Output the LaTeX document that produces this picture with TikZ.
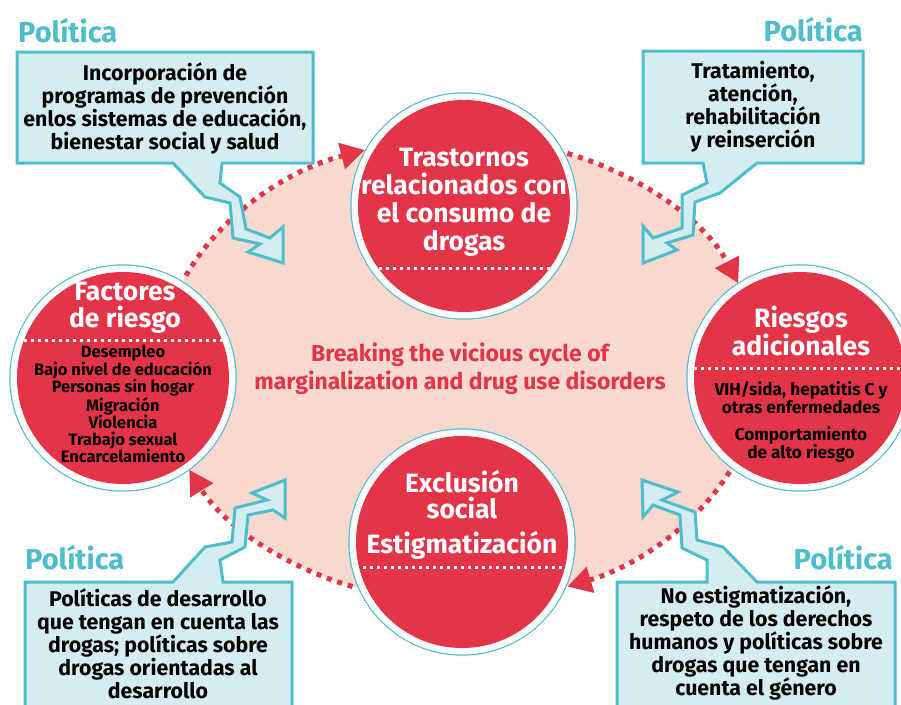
\documentclass[tikz,border=0pt]{standalone}
\usepackage{fontspec}
\setmainfont{Fira Sans}
\usetikzlibrary{arrows.meta,calc}
\definecolor{rojo}{HTML}{E43448}
\definecolor{rosa}{HTML}{F9D9D0}
\definecolor{turquesa}{HTML}{4FBECC}
\definecolor{celeste}{HTML}{D5ECF0}
\begin{document}
\begin{tikzpicture}[x=1pt,y=-1pt,
	every node/.style={align=center, inner sep=0pt},
	circulo/.style={circle, minimum size=212pt, fill=rojo,
		preaction={draw=turquesa, line width=1.2pt, double=white, double distance=13pt},
		path picture={\draw[puntos] ($(path picture bounding box.west)+(0,#1)$) -- ($(path picture bounding box.east)+(0,#1)$);}},
	puntos/.style={white, line width=3pt, dash pattern=on 3pt off 4pt},
	titulo/.style={text=white, font=\fontsize{26.5}{28}\selectfont\bfseries},
	lista/.style={text=black, font=\fontsize{16.5}{17.2}\selectfont\bfseries},
	politica/.style={text=turquesa, font=\fontsize{29}{30}\selectfont\bfseries},
	caja/.style={fill=celeste, draw=turquesa, line width=3pt, line join=miter},
	texto/.style={text=black, font=\fontsize{21.3}{23}\selectfont\bfseries},
	ciclo/.style={rojo, line width=5pt, dash pattern=on 5pt off 6pt, -{Triangle[length=24pt,width=26pt]}},
	lema/.style={text=rojo, font=\fontsize{23}{28}\selectfont\bfseries}]
	\useasboundingbox (0,0) rectangle (901,704);
	\coordinate (centro) at (460,370);
	\fill[rosa] (centro) ellipse [x radius=300, y radius=232];
	\node[circulo=62] (trastornos) at (464,206) {};
	\node[circulo=-38] (factores) at (123,378) {};
	\node[circulo=-10] (riesgos) at (800,378) {};
	\node[circulo=25] (exclusion) at (462,542) {};
	\draw[ciclo] (centro) ++(204:300 and 232) arc[start angle=204, end angle=251.5, x radius=300, y radius=232];
	\draw[ciclo] (centro) ++(291:300 and 232) arc[start angle=291, end angle=338, x radius=300, y radius=232];
	\draw[ciclo] (centro) ++(26:300 and 232) arc[start angle=26, end angle=69, x radius=300, y radius=232];
	\draw[ciclo] (centro) ++(111:300 and 232) arc[start angle=111, end angle=154.5, x radius=300, y radius=232];
	\draw[caja] (17,52) -- (313,52) -- (313,163) -- (222,163) -- (220,183) -- (240,197) -- (246,229) -- (270,238)
		-- (283,227) -- (283,263) -- (248,252) -- (260,244) -- (233,238) -- (230,203) -- (205,197) -- (173,163) -- (17,163) -- cycle;
	\draw[caja] (643,51) -- (863,51) -- (863,163) -- (757,163) -- (720,193) -- (695,202) -- (693,235) -- (667,243)
		-- (677,250) -- (643,263) -- (643,226) -- (653,238) -- (682,228) -- (682,195) -- (707,183) -- (703,163) -- (643,163) -- cycle;
	\draw[caja] (25,582) -- (173,582) -- (205,547) -- (232,542) -- (235,508) -- (267,500) -- (252,493) -- (285,480)
		-- (285,518) -- (273,510) -- (248,515) -- (245,547) -- (220,560) -- (223,582) -- (292,582) -- (292,720) -- (25,720) -- cycle;
	\draw[caja] (617,582) -- (707,582) -- (707,560) -- (682,548) -- (680,515) -- (653,505) -- (643,517) -- (642,480)
		-- (678,492) -- (662,500) -- (695,512) -- (697,540) -- (723,547) -- (757,582) -- (895,582) -- (895,720) -- (617,720) -- cycle;
	\node[titulo] (t-trastornos) at (464,202) {Trastornos\\relacionados con\\el consumo de\\drogas};
	\node[titulo, font=\fontsize{26.5}{27}\selectfont\bfseries] (t-factores) at (125,308) {Factores\\de riesgo};
	\node[lista] (l-factores) at (123,404) {Desempleo\\Bajo nivel de educación\\Personas sin hogar\\Migración\\Violencia\\Trabajo sexual\\Encarcelamiento};
	\node[titulo] (t-riesgos) at (801,331) {Riesgos\\adicionales};
	\node[lista, font=\fontsize{17.2}{18}\selectfont\bfseries] (l-riesgos1) at (801,398) {VIH/sida, hepatitis C y\\otras enfermedades};
	\node[lista, font=\fontsize{17.2}{18}\selectfont\bfseries] (l-riesgos2) at (801,444) {Comportamiento\\de alto riesgo};
	\node[titulo, font=\fontsize{26.5}{26}\selectfont\bfseries] (t-exclusion) at (462,495) {Exclusión\\social};
	\node[titulo] (t-estigma) at (462,545) {Estigmatización};
	\node[lema] (lema) at (460,369) {Breaking the vicious cycle of\\marginalization and drug use disorders};
	\node[texto] (c-prevencion) at (165,108) {Incorporación de\\programas de prevención\\enlos sistemas de educación,\\bienestar social y salud};
	\node[texto] (c-tratamiento) at (753,107) {Tratamiento,\\atención,\\rehabilitación\\y reinserción};
	\node[texto] (c-desarrollo) at (158,644) {Políticas de desarrollo\\que tengan en cuenta las\\drogas; políticas sobre\\drogas orientadas al\\desarrollo};
	\node[texto] (c-derechos) at (756,643) {No estigmatización,\\respeto de los derechos\\humanos y políticas sobre\\drogas que tengan en\\cuenta el género};
	\node[politica, anchor=west] (p1) at (18,31) {Política};
	\node[politica, anchor=east] (p2) at (863,30) {Política};
	\node[politica, anchor=west] (p3) at (25,558) {Política};
	\node[politica, anchor=east] (p4) at (893,558) {Política};
\end{tikzpicture}
\end{document}
